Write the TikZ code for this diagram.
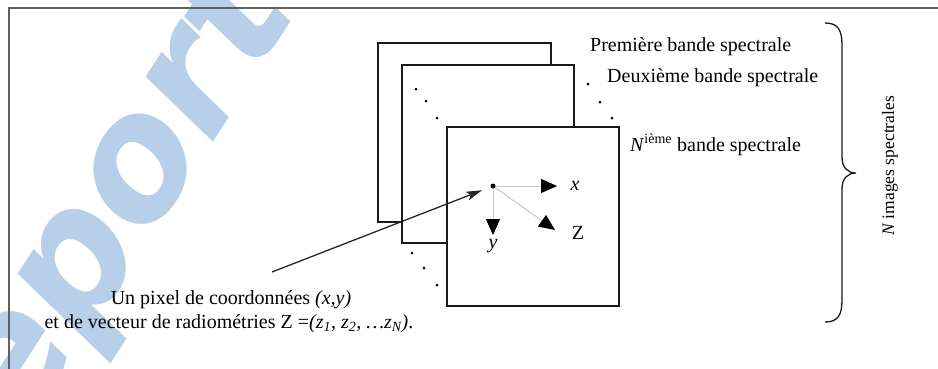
\documentclass[tikz,border=0pt]{standalone}
\usepackage{fontspec}
\setmainfont{Liberation Serif}
\newfontfamily\wmfont{DejaVu Sans}
\usetikzlibrary{arrows.meta}
\definecolor{wm}{RGB}{184,207,233}
\definecolor{framecol}{RGB}{95,95,95}
\definecolor{axiscol}{RGB}{200,200,200}
\begin{document}
\begin{tikzpicture}[x=1pt,y=-1pt,
  txt/.style={font=\fontsize{20}{24}\selectfont, inner sep=0pt},
  band/.style={draw=black!90, line width=1.3pt, fill=white},
  sdot/.style={circle, fill=black, inner sep=0pt, minimum size=3pt},
  axis/.style={draw=axiscol, line width=1pt, -{Triangle[length=16pt,width=14pt,black]}},
  pointer/.style={draw=black!85, line width=1.3pt, -{Stealth[length=16pt,width=9pt,inset=4pt]}},
  bracepath/.style={draw=black!90, line width=1.3pt}]
\useasboundingbox (0,0) rectangle (938,368);
% watermark
\begin{scope}
\clip (0,0) rectangle (938,368);
\node[anchor=base west, rotate=57, text=wm, inner sep=0pt,
      font=\wmfont\bfseries\itshape\fontsize{168}{168}\selectfont] (wmark) at (-46,541) {Report};
\end{scope}
% frame
\draw[framecol, line width=1.6pt] (9,370) -- (9,8) -- (940,8);
% bands
\draw[band] (378,43) rectangle (551,222);
\draw[band] (402,65) rectangle (574,243);
\draw[band] (447,127) rectangle (619,306);
% ellipsis dots
\foreach \p/\n in {{(416,89)}/a1,{(426,101)}/a2,{(437,118)}/a3,
                   {(588,84)}/b1,{(600,102)}/b2,{(612,118)}/b3,
                   {(412,253)}/c1,{(424,268)}/c2,{(437,285)}/c3}
  \node[sdot] (d\n) at \p {};
% pixel and axes
\node[circle, fill=black, inner sep=0pt, minimum size=5pt] (px) at (493,186) {};
\coordinate (tx) at (557,186);
\coordinate (ty) at (493,235);
\coordinate (tz) at (555,230);
\draw[axis] (px) -- (tx);
\draw[axis] (px) -- (ty);
\draw[axis] (px) -- (tz);
\node[txt, font=\fontsize{20}{24}\selectfont\itshape] (lx) at (575,186) {x};
\node[txt, font=\fontsize{20}{24}\selectfont\itshape] (ly) at (493,246) {y};
\node[txt] (lz) at (578,233) {Z};
% band labels
\node[txt, anchor=base west] (l1) at (590,51) {Première bande spectrale};
\node[txt, anchor=base west] (l2) at (607,82) {Deuxième bande spectrale};
\node[txt, anchor=base west] (l3) at (630,151) {\textit{N}\textsuperscript{ième} bande spectrale};
% brace
\draw[bracepath] (825,23) .. controls (838,23) and (842,30) .. (842,45)
  -- (842,157) .. controls (842,168) and (848,173) .. (856,173)
  .. controls (848,173) and (842,178) .. (842,189)
  -- (842,300) .. controls (842,315) and (838,322) .. (825,322);
\node[txt, font=\fontsize{17.5}{20}\selectfont, rotate=90] (nim) at (890,166) {\textit{N} images spectrales};
% pixel description
\node[txt, anchor=base] (p1) at (231,304) {Un pixel de coordonnées \textit{(x,y)}};
\node[txt, anchor=base] (p2) at (229,328) {et de vecteur de radiométries Z =\textit{(z\textsubscript{1}, z\textsubscript{2}, \ldots z\textsubscript{N})}.};
\coordinate (ps) at (272,272);
\draw[pointer, shorten >=9pt] (ps) -- (px);
\end{tikzpicture}
\end{document}
